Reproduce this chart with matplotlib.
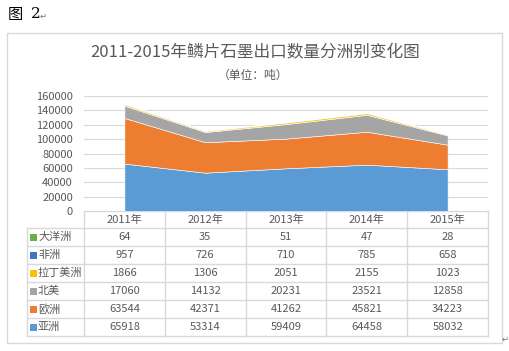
import matplotlib.pyplot as plt
from matplotlib.patches import Rectangle

plt.rcParams['font.family'] = ['Noto Sans CJK SC', 'DejaVu Sans']

# data
years = ['2011年', '2012年', '2013年', '2014年', '2015年']
asia = [65918, 53314, 59409, 64458, 58032]
europe = [63544, 42371, 41262, 45821, 34223]
n_america = [17060, 14132, 20231, 23521, 12858]
latin = [1866, 1306, 2051, 2155, 1023]
africa = [957, 726, 710, 785, 658]
oceania = [64, 35, 51, 47, 28]

series = [('亚洲', asia, '#5B9BD5'), ('欧洲', europe, '#ED7D31'),
          ('北美', n_america, '#A5A5A5'), ('拉丁美洲', latin, '#FFC000'),
          ('非洲', africa, '#4472C4'), ('大洋洲', oceania, '#70AD47')]

W, H = 509, 351
txt = '#595959'
line_c = '#D9D9D9'
fig = plt.figure(figsize=(W / 100, H / 100), dpi=100)

# overlay in pixel coordinates for frame, titles and data table
ov = fig.add_axes([0, 0, 1, 1])
ov.set_xlim(0, W)
ov.set_ylim(H, 0)
ov.axis('off')
ov.add_patch(Rectangle((7, 33), 495, 310, fill=False, ec=line_c, lw=1))
ov.text(8, 14, '图', fontsize=11, color='#000000', va='center')
ov.text(31, 14, '2', fontsize=11, color='#000000', va='center', family='DejaVu Serif')
ov.text(40, 16, '↵', fontsize=6, color='#777777', va='center')
ov.text(255, 53, '2011-2015年鳞片石墨出口数量分洲别变化图', fontsize=12,
        color=txt, ha='center', va='center')
ov.text(253, 75, '（单位：吨）', fontsize=8.5, color=txt, ha='center', va='center')
ov.text(502, 339, '↵', fontsize=6, color='#777777', va='center')

# plot area
x0, x1, ytop, ybot = 84, 488, 96, 211
ax = fig.add_axes([x0 / W, (H - ybot) / H, (x1 - x0) / W, (ybot - ytop) / H])
xs = list(range(len(years)))
ax.stackplot(xs, *[s[1] for s in series], colors=[s[2] for s in series],
             edgecolor='white', linewidth=0.4)
ax.set_xlim(-0.5, len(years) - 0.5)
ax.set_ylim(0, 160000)
ax.set_yticks(range(0, 160001, 20000))
ax.set_xticks([])
ax.grid(axis='y', color=line_c, lw=0.8)
ax.set_axisbelow(True)
for sp in ax.spines.values():
    sp.set_visible(False)
ax.tick_params(axis='y', length=0, pad=8, labelsize=8, labelcolor=txt)

# data table
col_w = (x1 - x0) / len(years)
hdr_top, row_top, row_h = 211, 228, 18
rows = series[::-1]
row_bot = row_top + row_h * len(rows)
lab_x = 27
ov.plot([x0, x1], [hdr_top, hdr_top], color=line_c, lw=1)
for i in range(len(years) + 1):
    xv = x0 + i * col_w
    ov.plot([xv, xv], [hdr_top, row_bot], color=line_c, lw=1)
ov.plot([lab_x, lab_x], [row_top, row_bot], color=line_c, lw=1)
for j in range(len(rows) + 1):
    yv = row_top + j * row_h
    ov.plot([lab_x, x1], [yv, yv], color=line_c, lw=1)
for i, yr in enumerate(years):
    ov.text(x0 + (i + 0.5) * col_w, (hdr_top + row_top) / 2, yr, fontsize=8,
            color=txt, ha='center', va='center')
for j, (name, vals, col) in enumerate(rows):
    yc = row_top + (j + 0.5) * row_h
    ov.add_patch(Rectangle((30, yc - 3.5), 7, 7, color=col, lw=0))
    ov.text(38, yc, name, fontsize=8, color=txt, va='center')
    for i, v in enumerate(vals):
        ov.text(x0 + (i + 0.5) * col_w, yc, str(v), fontsize=8, color=txt,
                ha='center', va='center')

fig.savefig('out.png', dpi=100)
